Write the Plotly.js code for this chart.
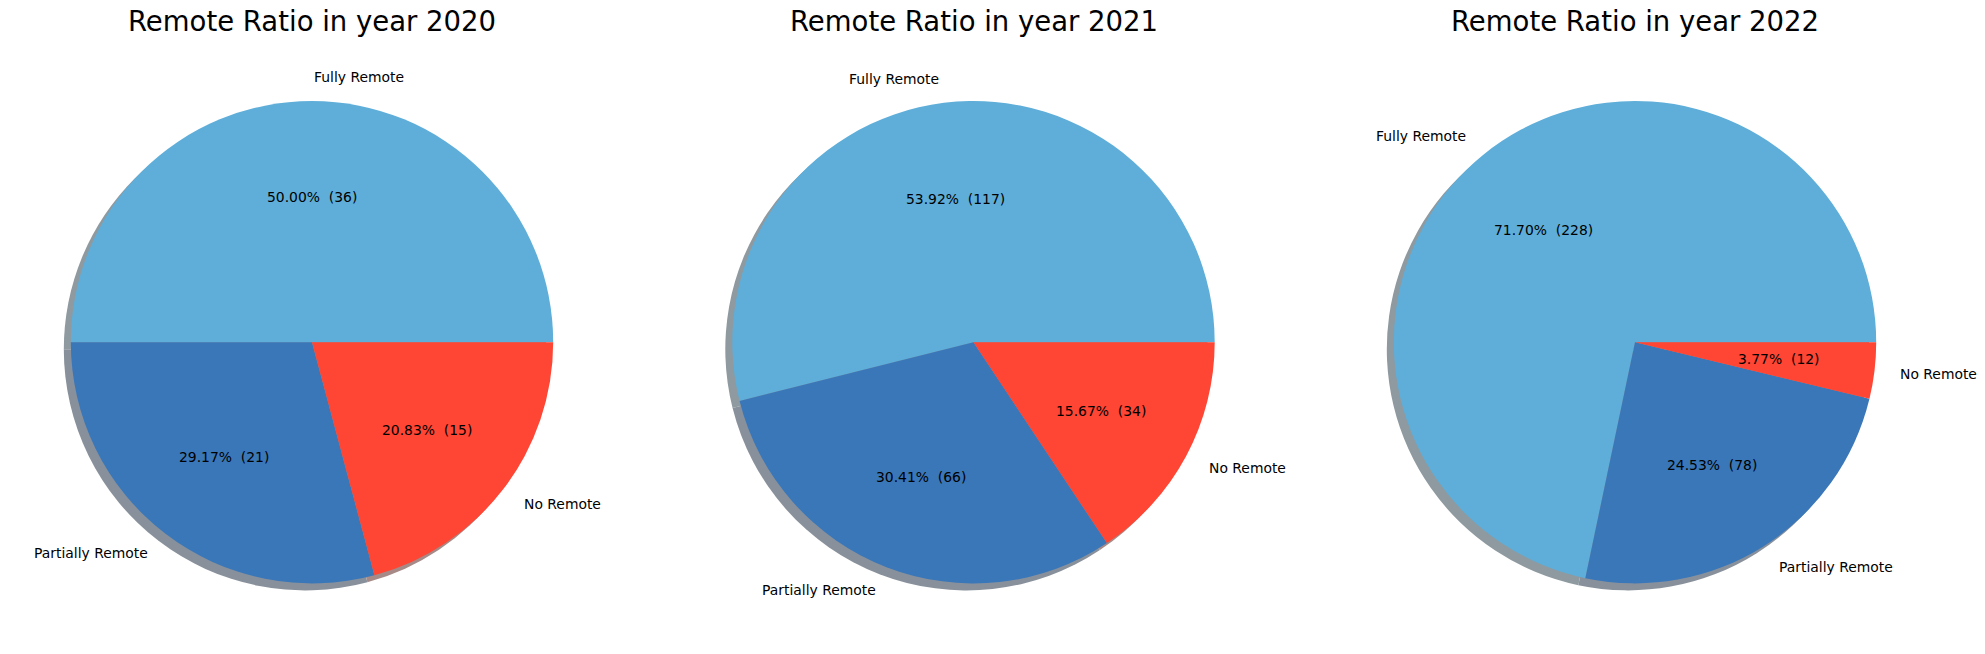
<!DOCTYPE html>
<html>
<head>
<meta charset="utf-8">
<script src="https://cdn.plot.ly/plotly-3.0.1.min.js"></script>
<style>html,body{margin:0;padding:0;background:#fff}</style>
</head>
<body>
<div id="chart" style="width:1985px;height:654px"></div>
<script>
// ---- data ----
const years = ['2020', '2021', '2022'];
const categories = ['Fully Remote', 'Partially Remote', 'No Remote'];
const counts2020 = [36, 21, 15];
const counts2021 = [117, 66, 34];
const counts2022 = [228, 78, 12];
const sliceColors = ['#5eaed9', '#3a77b9', '#ff4533'];

// ---- geometry / style ----
const W = 1985, H = 654;
const centersX = [312, 973.5, 1635];
const cy = 342.2, R = 241.2, SH = 7;
const FONT = 'DejaVu Sans, sans-serif';

function shadowColor(hex) {
  const r = parseInt(hex.slice(1, 3), 16), g = parseInt(hex.slice(3, 5), 16), b = parseInt(hex.slice(5, 7), 16);
  const f = c => Math.round(0.5 * c * 0.3 + 0.5 * 255);
  return 'rgb(' + f(r) + ',' + f(g) + ',' + f(b) + ')';
}

const allCounts = [counts2020, counts2021, counts2022];
const traces = [];
const annotations = [];

allCounts.forEach((vals, k) => {
  const cx = centersX[k];
  const total = vals.reduce((a, b) => a + b, 0);
  // matplotlib starts the first wedge at 3 o'clock going counterclockwise;
  // Plotly (counterclockwise) puts the first slice clockwise of `rotation`.
  const rot = 90 - 360 * vals[0] / total;
  const dom = (ox, oy) => ({
    x: [(cx + ox - R) / W, (cx + ox + R) / W],
    y: [1 - (cy + oy + R) / H, 1 - (cy + oy - R) / H]
  });
  const common = {
    type: 'pie', labels: categories, values: vals, sort: false,
    direction: 'counterclockwise', rotation: rot, textinfo: 'none',
    hoverinfo: 'skip', showlegend: false
  };
  traces.push(Object.assign({}, common, {
    domain: dom(-SH, SH),
    marker: { colors: sliceColors.map(shadowColor), line: { width: 0 } }
  }));
  traces.push(Object.assign({}, common, {
    domain: dom(0, 0),
    marker: { colors: sliceColors, line: { width: 0 } }
  }));

  let cum = 0;
  vals.forEach((v, i) => {
    const frac = v / total;
    const mid = 2 * Math.PI * (cum + frac / 2);
    cum += frac;
    const c = Math.cos(mid), s = Math.sin(mid);
    // outer label at 1.1 r
    const lx = cx + 1.1 * R * c, ly = cy - 1.1 * R * s;
    annotations.push({
      xref: 'paper', yref: 'paper', x: lx / W, y: 1 - ly / H,
      xanchor: c > 0 ? 'left' : 'right', yanchor: 'middle', showarrow: false,
      text: categories[i], font: { family: FONT, size: 13.9, color: '#000' }
    });
    // percentage label at 0.6 r
    const px = cx + 0.6 * R * c, py = cy - 0.6 * R * s;
    annotations.push({
      xref: 'paper', yref: 'paper', x: px / W, y: 1 - py / H,
      xanchor: 'center', yanchor: 'middle', showarrow: false,
      text: (100 * frac).toFixed(2) + '%  (' + v + ')',
      font: { family: FONT, size: 13.9, color: '#000' }
    });
  });

  annotations.push({
    xref: 'paper', yref: 'paper', x: cx / W, y: 1 - 21 / H,
    xanchor: 'center', yanchor: 'middle', showarrow: false,
    text: 'Remote Ratio in year ' + years[k],
    font: { family: FONT, size: 27.5, color: '#000' }
  });
});

const layout = {
  width: W, height: H,
  margin: { l: 0, r: 0, t: 0, b: 0, pad: 0 },
  paper_bgcolor: '#fff', plot_bgcolor: '#fff',
  showlegend: false,
  annotations: annotations
};

Plotly.newPlot('chart', traces, layout, { displayModeBar: false, staticPlot: true });
</script>
</body>
</html>
